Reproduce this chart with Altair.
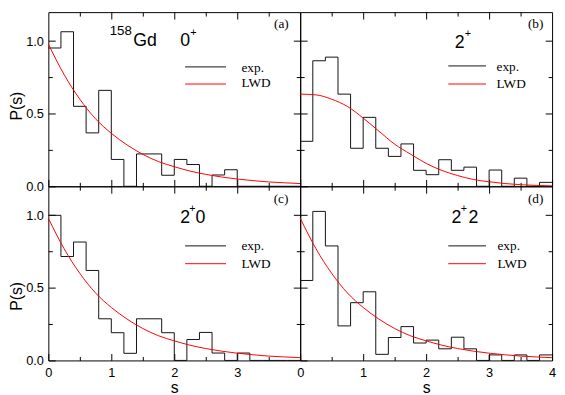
import altair as alt
import pandas as pd

# ---------------- data ----------------
EDGES = [0.0, 0.2, 0.4, 0.6, 0.8, 1.0, 1.2, 1.4, 1.6, 1.8, 2.0,
         2.2, 2.4, 2.6, 2.8, 3.0, 3.2, 3.4, 3.6, 3.8, 4.0]

HIST_A = [0.953, 1.065, 0.551, 0.368, 0.661, 0.185, 0.0, 0.223, 0.223, 0.076,
          0.185, 0.150, 0.0, 0.078, 0.114, 0.0, 0.0, 0.0, 0.0, 0.0]
HIST_B = [0.310, 0.865, 0.890, 0.635, 0.262, 0.475, 0.262, 0.206, 0.292, 0.110,
          0.080, 0.183, 0.110, 0.132, 0.0, 0.112, 0.0, 0.056, 0.0, 0.027]
HIST_C = [1.000, 0.716, 0.816, 0.620, 0.287, 0.191, 0.049, 0.287, 0.287, 0.191,
          0.0, 0.144, 0.193, 0.051, 0.0, 0.051, 0.0, 0.0, 0.0, 0.0]
HIST_D = [0.551, 1.027, 0.789, 0.238, 0.398, 0.473, 0.042, 0.158, 0.233, 0.120,
          0.140, 0.080, 0.160, 0.080, 0.0, 0.038, 0.0, 0.038, 0.0, 0.038]

CURVE_S = [0.0, 0.25, 0.5, 0.75, 1.0, 1.25, 1.5, 1.75, 2.0,
           2.25, 2.5, 2.75, 3.0, 3.25, 3.5, 3.75, 4.0]
LWD_A = [0.98, 0.77, 0.60, 0.465, 0.365, 0.285, 0.22, 0.17, 0.135,
         0.105, 0.082, 0.064, 0.05, 0.039, 0.03, 0.024, 0.019]
LWD_B = [0.635, 0.63, 0.60, 0.55, 0.47, 0.38, 0.29, 0.222, 0.158,
         0.109, 0.074, 0.047, 0.031, 0.019, 0.011, 0.006, 0.003]
LWD_C = [0.98, 0.77, 0.60, 0.465, 0.365, 0.285, 0.22, 0.17, 0.135,
         0.105, 0.082, 0.064, 0.05, 0.039, 0.03, 0.024, 0.019]
LWD_D = [0.98, 0.77, 0.60, 0.465, 0.365, 0.285, 0.22, 0.17, 0.135,
         0.105, 0.082, 0.064, 0.05, 0.039, 0.03, 0.024, 0.019]

X_TICKS_LEFT = [0, 1, 2, 3]
X_TICKS_RIGHT = [0, 1, 2, 3, 4]
X_MINOR = [0.5, 1.5, 2.5, 3.5]
Y_TICKS = [0, 0.5, 1.0]
Y_MINOR = [0.25, 0.75]
X_TITLE = "s"
Y_TITLE = "P(s)"
LEGEND_EXP = "exp."
LEGEND_LWD = "LWD"
PANEL_TAGS = ["(a)", "(b)", "(c)", "(d)"]

# ---------------- layout / style ----------------
W, H = 256, 177
FY = H / 180.0
SANS = "Liberation Sans"
SERIF = "Liberation Serif"
XS = alt.Scale(domain=[0, 4], nice=False, zero=False)
YS = alt.Scale(domain=[0, 1.2], nice=False, zero=False)
AX_COMMON = dict(domain=False, grid=False, tickColor="black", tickWidth=1)


def text_layer(text, x, y, font, size, align="left"):
    return alt.Chart(pd.DataFrame({"t": [text]})).mark_text(
        font=font, fontSize=size, align=align, baseline="alphabetic", color="black"
    ).encode(x=alt.value(x), y=alt.value(y * FY), text="t:N")


def rule_layer(x1, x2, y, color):
    return alt.Chart(pd.DataFrame({"k": [0]})).mark_rule(
        color=color, strokeWidth=1
    ).encode(x=alt.value(x1), x2=alt.value(x2), y=alt.value(y * FY))


def plain_axis(orient, values, size):
    return alt.Axis(orient=orient, values=values, labels=False, tickSize=size,
                    offset=-size, title=None, **AX_COMMON)


def panel(hist, lwd, xvals, xlabels, ylabels, ytitle_y, texts, leg, tag):
    hdf = pd.DataFrame({"s": EDGES, "p": hist + [hist[-1]]})
    cdf = pd.DataFrame({"s": CURVE_S, "p": lwd})

    xa = dict(orient="bottom", values=xvals, labels=xlabels, tickSize=7, offset=-7,
              labelPadding=6, labelFlush=False, labelOverlap=False, **AX_COMMON)
    xa["title"] = X_TITLE if xlabels else None
    if xlabels:
        xa["titlePadding"] = 1
    ya = dict(orient="left", values=Y_TICKS, labels=ylabels, tickSize=7, offset=-7,
              labelPadding=5, format=".1f", labelOverlap=False, labelFlush=False,
              **AX_COMMON)
    ya["title"] = Y_TITLE if ylabels else None
    if ylabels:
        ya["titlePadding"] = 1
        ya["titleY"] = ytitle_y * FY

    hist_l = alt.Chart(hdf).mark_line(
        interpolate="step-after", color="#111111", strokeWidth=1
    ).encode(
        x=alt.X("s:Q", scale=XS, axis=alt.Axis(**xa)),
        y=alt.Y("p:Q", scale=YS, axis=alt.Axis(**ya)),
    )
    curve_l = alt.Chart(cdf).mark_line(
        interpolate="monotone", color="#ff0000", strokeWidth=1
    ).encode(
        x=alt.X("s:Q", scale=XS, axis=plain_axis("top", [1, 2, 3], 7)),
        y=alt.Y("p:Q", scale=YS, axis=plain_axis("right", [0.5, 1.0], 7)),
    )
    minor1 = alt.Chart(cdf).mark_line(strokeOpacity=0).encode(
        x=alt.X("s:Q", scale=XS, axis=plain_axis("bottom", X_MINOR, 4)),
        y=alt.Y("p:Q", scale=YS, axis=plain_axis("left", Y_MINOR, 4)),
    )
    minor2 = alt.Chart(cdf).mark_line(strokeOpacity=0).encode(
        x=alt.X("s:Q", scale=XS, axis=plain_axis("top", X_MINOR, 4)),
        y=alt.Y("p:Q", scale=YS, axis=plain_axis("right", Y_MINOR, 4)),
    )
    layers = [hist_l, curve_l, minor1, minor2]
    for (t, x, y, size, align) in texts:
        layers.append(text_layer(t, x, y, SANS, size, align))
    lx1, lx2, ly1, ly2, tx, tb1, tb2 = leg
    layers.append(rule_layer(lx1, lx2, ly1, "#111111"))
    layers.append(rule_layer(lx1, lx2, ly2, "#ff0000"))
    layers.append(text_layer(LEGEND_EXP, tx, tb1, SERIF, 13.5))
    layers.append(text_layer(LEGEND_LWD, tx, tb2, SERIF, 13.5))
    tg, tgx, tgy = tag
    layers.append(text_layer(tg, tgx, tgy, SERIF, 13.5, "right"))

    return alt.layer(*layers).resolve_axis(x="independent", y="independent").properties(
        width=W, height=H
    )


pa = panel(HIST_A, LWD_A, X_TICKS_LEFT, False, True, 96.6,
           [("158", 62.3, 23.5, 13.5, "left"), ("Gd", 86.3, 35.3, 18, "left"),
            ("0", 134, 35.3, 18, "left"), ("+", 147.5, 24.5, 11, "center")],
           (139, 180.6, 56.6, 74.3, 196.3, 61.6, 77.6),
           (PANEL_TAGS[0], 244.3, 16.6))
pb = panel(HIST_B, LWD_B, X_TICKS_RIGHT, False, False, 96.6,
           [("2", 157.2, 36.6, 18, "left"), ("+", 170.5, 26.0, 11, "center")],
           (150.5, 188.8, 55.6, 74.3, 199.5, 61.0, 78.3),
           (PANEL_TAGS[1], 247.2, 16.6))
pc = panel(HIST_C, LWD_C, X_TICKS_LEFT, True, True, 113.3,
           [("2", 134, 38.3, 18, "left"), ("+", 146.5, 26.8, 11, "center"),
            ("0", 149.5, 38.3, 18, "left")],
           (139, 180.6, 61.6, 80.0, 196.3, 66.0, 84.0),
           (PANEL_TAGS[2], 244.0, 17.3))
pd_ = panel(HIST_D, LWD_D, X_TICKS_RIGHT, True, False, 113.3,
            [("2", 153.8, 38.3, 18, "left"), ("+", 166.3, 26.8, 11, "center"),
             ("2", 171.0, 38.3, 18, "left")],
            (150.5, 188.8, 61.6, 80.0, 200.5, 66.0, 84.0),
            (PANEL_TAGS[3], 247.2, 17.3))

chart = alt.concat(pa, pb, pc, pd_, columns=2, spacing=0, bounds="flush", padding=0,
                   background="white").configure_view(
    stroke="black", strokeWidth=1
).configure_axis(
    grid=False, domain=False, tickColor="black", tickWidth=1,
    labelColor="black", titleColor="black", labelFont=SANS, titleFont=SANS,
    labelFontSize=13, titleFontSize=16, titleFontWeight="normal"
)

chart.save("out.html", embed_options={"renderer": "svg", "actions": False})
